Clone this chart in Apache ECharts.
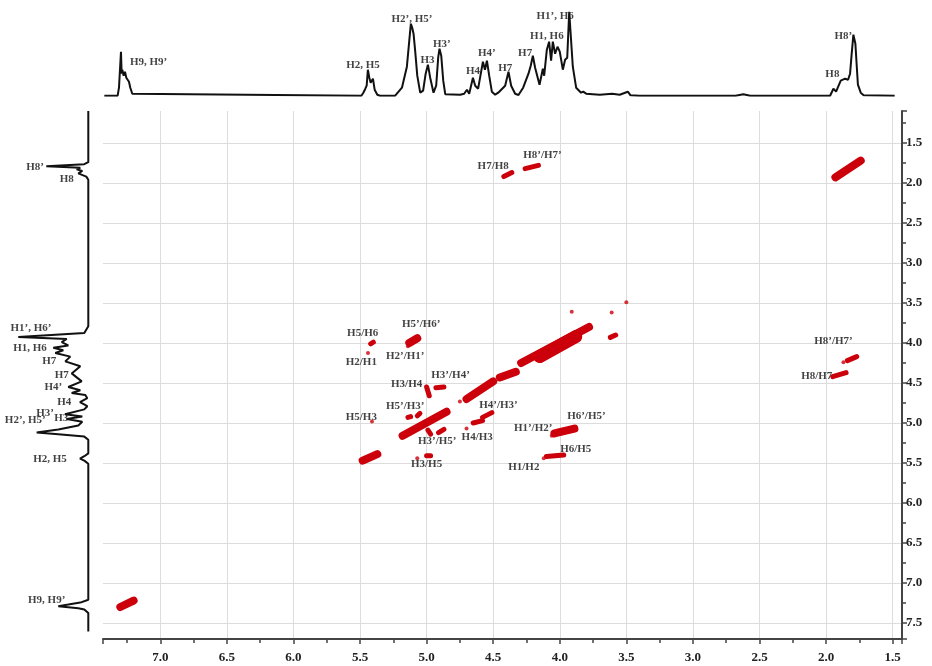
<!DOCTYPE html>
<html>
<head>
<meta charset="utf-8">
<script src="https://cdn.jsdelivr.net/npm/echarts@6/dist/echarts.min.js"></script>
<style>
  html, body { margin: 0; padding: 0; background: #fff; }
  #chart { width: 932px; height: 666px; }
</style>
</head>
<body>
<div id="chart"></div>
<script>
// axis ranges (ppm)
var xRange = [1.43, 7.43];
var yRange = [1.1, 7.7];
var xTickLabels = [7.0, 6.5, 6.0, 5.5, 5.0, 4.5, 4.0, 3.5, 3.0, 2.5, 2.0, 1.5];
var yTickLabels = [1.5, 2.0, 2.5, 3.0, 3.5, 4.0, 4.5, 5.0, 5.5, 6.0, 6.5, 7.0, 7.5];

// 1D projection on top: [ppm, intensity]
var topTrace = [
  [7.42, 0], [7.32, 0], [7.31, 8], [7.295, 44], [7.29, 22], [7.285, 26], [7.275, 20],
  [7.265, 24], [7.255, 18], [7.245, 20], [7.235, 14], [7.225, 8], [7.21, 2], [7.20, 0],
  [5.49, 0], [5.475, 3], [5.46, 7], [5.45, 10], [5.441, 26], [5.43, 18], [5.42, 13],
  [5.403, 17], [5.39, 6], [5.37, 1], [5.35, 0],
  [5.236, 0], [5.185, 8], [5.148, 29], [5.13, 55], [5.118, 72], [5.108, 68], [5.098, 62],
  [5.086, 45], [5.07, 20], [5.048, 3], [5.026, 5], [5.007, 22], [4.99, 31], [4.973, 18],
  [4.948, 3], [4.928, 10], [4.913, 38], [4.903, 47], [4.89, 40], [4.875, 15], [4.86, 1.5],
  [4.748, 1], [4.718, 2], [4.697, 6], [4.68, 2], [4.652, 18], [4.635, 10], [4.613, 7],
  [4.577, 34], [4.562, 26], [4.547, 35], [4.53, 20], [4.51, 4], [4.485, 1], [4.462, 3],
  [4.41, 10], [4.385, 24], [4.365, 10], [4.335, 2], [4.31, 0.7], [4.275, 8], [4.235, 22],
  [4.218, 30], [4.202, 40], [4.185, 28], [4.152, 11], [4.127, 27], [4.117, 20], [4.097, 46],
  [4.08, 54], [4.065, 35], [4.052, 54], [4.035, 42], [4.017, 49], [4.0, 44], [3.977, 26],
  [3.96, 36], [3.944, 38], [3.929, 84], [3.914, 85], [3.902, 29], [3.877, 8], [3.84, 3],
  [3.824, 4], [3.802, 2], [3.7, 1], [3.607, 2], [3.55, 1], [3.489, 4], [3.47, 0.5],
  [3.4, 0], [2.68, 0], [2.621, 1.5], [2.57, 0], [1.97, 0], [1.945, 7], [1.925, 4],
  [1.89, 15], [1.857, 17], [1.835, 16], [1.82, 22], [1.809, 40], [1.795, 61], [1.78, 52],
  [1.77, 30], [1.761, 11], [1.74, 3], [1.718, 0.5], [1.485, 0]
];

// 1D projection on the left: [intensity, ppm]
var leftTrace = [
  [0, 1.10], [0, 1.74], [4, 1.765], [42, 1.79], [8, 1.81], [11.6, 1.83], [6, 1.85],
  [10, 1.88], [2, 1.92], [0, 1.96], [0, 2.6], [1, 2.625], [0, 2.65], [0, 3.46],
  [1.5, 3.48], [0, 3.5], [0, 3.79], [4, 3.875], [70, 3.925], [21.6, 3.95], [26.6, 3.99],
  [20, 4.03], [35, 4.06], [25, 4.09], [33, 4.125], [18, 4.17], [23, 4.23], [8, 4.29],
  [16.6, 4.38], [6.6, 4.48], [20, 4.55], [8, 4.59], [16.6, 4.625], [3, 4.65], [1, 4.69],
  [8.3, 4.74], [1, 4.79], [4, 4.83], [23.3, 4.89], [6, 4.92], [21.6, 4.95], [6, 4.985],
  [10, 5.03], [30, 5.08], [51.6, 5.12], [30, 5.14], [4, 5.17], [0, 5.21],
  [0, 5.38], [4, 5.415], [8.3, 5.446], [4, 5.47], [0, 5.51],
  [0, 7.21], [8, 7.245], [20, 7.27], [30, 7.29], [10, 7.315], [4, 7.33], [0, 7.375], [0, 7.605]
];

// 2D contours as segments [x1, y1, x2, y2] (ppm), grouped by strength
var bigBlobs = [
  [4.15, 4.17, 3.88, 3.92]
];
var midBlobs = [
  [4.29, 4.25, 3.78, 3.80],
  [1.93, 1.93, 1.74, 1.72],
  [5.18, 5.16, 4.85, 4.86],
  [4.45, 4.43, 4.33, 4.36],
  [4.70, 4.70, 4.50, 4.48],
  [5.48, 5.47, 5.37, 5.39],
  [7.30, 7.30, 7.20, 7.22],
  [4.04, 5.13, 3.89, 5.07],
  [5.13, 4.00, 5.07, 3.94]
];
var smallBlobs = [
  [4.42, 1.92, 4.36, 1.87],
  [4.26, 1.82, 4.16, 1.78],
  [1.84, 4.22, 1.77, 4.17],
  [1.95, 4.42, 1.85, 4.37],
  [4.93, 4.56, 4.87, 4.55],
  [5.00, 4.55, 4.98, 4.66],
  [5.14, 4.93, 5.12, 4.92],
  [5.07, 4.91, 5.05, 4.88],
  [4.91, 5.12, 4.87, 5.08],
  [4.10, 5.42, 3.97, 5.40],
  [5.42, 4.01, 5.40, 3.99],
  [5.00, 5.41, 4.97, 5.41],
  [3.62, 3.93, 3.58, 3.90],
  [4.99, 5.09, 4.97, 5.14],
  [4.65, 5.00, 4.58, 4.97],
  [4.58, 4.93, 4.51, 4.87]
];
var dots = [
  [5.44, 4.125], [4.06, 5.16], [4.70, 5.07], [5.07, 5.44], [5.41, 4.98], [3.50, 3.49],
  [3.91, 3.61], [4.75, 4.73], [3.61, 3.62], [5.14, 4.04], [4.12, 5.44], [1.87, 4.24]
];

// labels: [text, x, y]
var crossLabels = [
  ['H7/H8', 4.50, 1.79], ['H8’/H7’', 4.13, 1.65], ['H8’/H7’', 1.945, 3.98],
  ['H8/H7', 2.07, 4.42], ['H5/H6', 5.48, 3.88], ['H2/H1', 5.49, 4.24],
  ['H5’/H6’', 5.04, 3.77], ['H2’/H1’', 5.16, 4.17], ['H3’/H4’', 4.82, 4.40],
  ['H3/H4', 5.15, 4.52], ['H5’/H3’', 5.16, 4.79], ['H5/H3', 5.49, 4.93],
  ['H4’/H3’', 4.46, 4.78], ['H3’/H5’', 4.92, 5.23], ['H4/H3', 4.62, 5.18],
  ['H3/H5', 5.00, 5.52], ['H1’/H2’', 4.20, 5.07], ['H6’/H5’', 3.80, 4.92],
  ['H6/H5', 3.88, 5.33], ['H1/H2', 4.27, 5.55]
];
var topLabels = [
  ['H9, H9’', 7.088, 34], ['H2, H5', 5.478, 30.7], ['H2’, H5’', 5.11, 76.4],
  ['H3', 4.993, 35.7], ['H3’', 4.885, 51.4], ['H4', 4.652, 24.7], ['H4’', 4.547, 43],
  ['H7', 4.41, 27.4], ['H7', 4.26, 42.4], ['H1, H6', 4.097, 60], ['H1’, H6', 4.035, 80],
  ['H8’', 1.87, 60], ['H8', 1.953, 21.7]
];
var leftLabels = [
  ['H8’', 53.3, 1.80], ['H8', 21.6, 1.946], ['H1’, H6’', 57.3, 3.81], ['H1, H6', 58.3, 4.06],
  ['H7', 39, 4.23], ['H7', 26.6, 4.40], ['H4’', 35, 4.55], ['H4', 24, 4.74],
  ['H3’', 43.3, 4.88], ['H2’, H5’', 63, 4.96], ['H3', 27, 4.94], ['H2, H5', 38.3, 5.446],
  ['H9, H9’', 41.6, 7.22]
];

var RED = '#cc000a';
var FONT = '"Liberation Serif", "DejaVu Serif", serif';

function blobSeries(data, width) {
  return {
    type: 'custom', xAxisIndex: 0, yAxisIndex: 0, data: data, silent: true,
    renderItem: function (params, api) {
      var p1 = api.coord([api.value(0), api.value(1)]);
      var p2 = api.coord([api.value(2), api.value(3)]);
      return {
        type: 'line',
        shape: { x1: p1[0], y1: p1[1], x2: p2[0], y2: p2[1] },
        style: { stroke: RED, lineWidth: width, lineCap: 'round' }
      };
    }
  };
}

function labelSeries(data, xi, yi) {
  return {
    type: 'scatter', xAxisIndex: xi, yAxisIndex: yi, symbolSize: 1, silent: true,
    itemStyle: { color: 'rgba(0,0,0,0)' },
    data: data.map(function (d) { return { name: d[0], value: [d[1], d[2]] }; }),
    label: {
      show: true, position: 'inside', formatter: '{b}',
      fontFamily: FONT, fontWeight: 'bold', fontSize: 11, color: '#111'
    }
  };
}

var chart = echarts.init(document.getElementById('chart'));
chart.setOption({
  backgroundColor: '#fff',
  animation: false,
  grid: [
    { left: 103, right: 30, top: 111, bottom: 27 },
    { left: 103, right: 30, top: 10.7, bottom: 570.3 },
    { left: 0.3, right: 843.7, top: 111, bottom: 27 }
  ],
  xAxis: [
    {
      gridIndex: 0, type: 'value', inverse: true, min: xRange[0], max: xRange[1],
      splitNumber: 12, position: 'bottom',
      axisLine: { onZero: false, lineStyle: { color: '#444', width: 2 } },
      axisTick: { show: true, length: 5, lineStyle: { color: '#444', width: 1.5 } },
      minorTick: { show: true, splitNumber: 2, length: 4, lineStyle: { color: '#444', width: 1.5 } },
      axisLabel: {
        customValues: xTickLabels, formatter: function (v) { return v.toFixed(1); },
        fontFamily: FONT, fontWeight: 'bold', fontSize: 13, color: '#222', margin: 12
      },
      splitLine: { show: true, showMinLine: false, showMaxLine: false, lineStyle: { color: '#dcdcdc', width: 1 } }
    },
    { gridIndex: 1, type: 'value', inverse: true, min: xRange[0], max: xRange[1], show: false },
    { gridIndex: 2, type: 'value', inverse: true, min: 0, max: 88, show: false }
  ],
  yAxis: [
    {
      gridIndex: 0, type: 'value', inverse: true, min: yRange[0], max: yRange[1],
      splitNumber: 13, position: 'right',
      axisLine: { show: true, onZero: false, lineStyle: { color: '#444', width: 2 } },
      axisTick: { show: true, length: 5, lineStyle: { color: '#444', width: 1.5 } },
      minorTick: { show: true, splitNumber: 2, length: 4, lineStyle: { color: '#444', width: 1.5 } },
      axisLabel: {
        customValues: yTickLabels, formatter: function (v) { return v.toFixed(1); },
        fontFamily: FONT, fontWeight: 'bold', fontSize: 13, color: '#222', margin: 4
      },
      splitLine: { show: true, showMinLine: false, showMaxLine: false, lineStyle: { color: '#dcdcdc', width: 1 } }
    },
    { gridIndex: 1, type: 'value', min: 0, max: 85, show: false },
    { gridIndex: 2, type: 'value', inverse: true, min: yRange[0], max: yRange[1], show: false }
  ],
  series: [
    {
      type: 'line', xAxisIndex: 1, yAxisIndex: 1, data: topTrace, showSymbol: false,
      silent: true, lineStyle: { color: '#111', width: 2 }
    },
    {
      type: 'line', xAxisIndex: 2, yAxisIndex: 2, data: leftTrace, showSymbol: false,
      silent: true, lineStyle: { color: '#111', width: 2 }
    },
    blobSeries(midBlobs, 8),
    blobSeries(bigBlobs, 13),
    blobSeries(smallBlobs, 5),
    {
      type: 'scatter', xAxisIndex: 0, yAxisIndex: 0, data: dots, symbolSize: 4,
      silent: true, itemStyle: { color: RED }
    },
    labelSeries(crossLabels, 0, 0),
    labelSeries(topLabels, 1, 1),
    labelSeries(leftLabels, 2, 2)
  ]
});
</script>
</body>
</html>
